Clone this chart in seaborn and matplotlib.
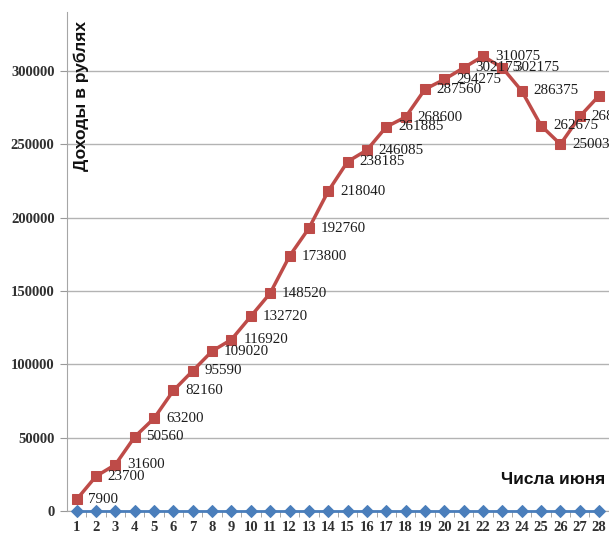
import matplotlib
matplotlib.use("Agg")
import matplotlib.pyplot as plt
import seaborn as sns
import pandas as pd

# Days of June
days = list(range(1, 29))
# Cumulative income, roubles
income = [7900, 23700, 31600, 50560, 63200, 82160, 95590, 109020, 116920,
          132720, 148520, 173800, 192760, 218040, 238185, 246085, 261885,
          268600, 287560, 294275, 302175, 310075, 302175, 286375, 262675,
          250030, 268990, 283210]
# Second series (all zero)
base = [0, 0, 0, 0, 0, 0, 0, 0, 0, 0, 0, 0, 0, 0,
        0, 0, 0, 0, 0, 0, 0, 0, 0, 0, 0, 0, 0, 0]
y_ticks = [0, 50000, 100000, 150000, 200000, 250000, 300000]

y_title = "Доходы в рублях"
x_title = "Числа июня"

df = pd.DataFrame({"day": days, "income": income, "base": base})

sns.set_style("white")
plt.rcParams["font.family"] = ["Liberation Serif", "DejaVu Serif"]

W, H = 609, 536
fig = plt.figure(figsize=(W / 100, H / 100), dpi=100)
ax = fig.add_axes([67 / W, 25 / H, (W - 67 + 0.5) / W, 499 / H])

red = "#BE4B48"
blue = "#4A7EBB"

sns.lineplot(data=df, x="day", y="base", ax=ax, color=blue, lw=2,
             marker="D", markersize=6, markeredgecolor=blue, zorder=3,
             clip_on=False)
sns.lineplot(data=df, x="day", y="income", ax=ax, color=red, lw=2.5,
             marker="s", markersize=7.5, markeredgecolor=red, zorder=4,
             clip_on=False)

for d, v in zip(days, income):
    ax.annotate(str(v), (d, v), xytext=(8.5, 0), textcoords="offset points",
                ha="left", va="center", fontsize=10.8, color="#1c1c1c",
                annotation_clip=False, zorder=5)

ax.set_xlim(0.5, 0.5 + (W - 67) / 19.333)
ax.set_ylim(0, 340200)
ax.set_xticks(days)
ax.set_xticklabels([str(d) for d in days], fontsize=10.5, color="#303030",
                   fontweight="bold")
ax.set_xticks([d + 0.5 for d in days], minor=True)
ax.set_yticks(y_ticks)
ax.set_yticklabels([str(t) for t in y_ticks], fontsize=10.5, color="#303030",
                   fontweight="bold")
ax.tick_params(axis="y", which="major", direction="out", length=5,
               color="#999999", pad=4, left=True)
ax.tick_params(axis="x", which="major", length=0, pad=7)
ax.tick_params(axis="x", which="minor", direction="out", length=4,
               color="#999999", bottom=True)

ax.yaxis.grid(True, color="#B3B3B3", lw=1)
ax.set_axisbelow(True)
for side in ["top", "right"]:
    ax.spines[side].set_visible(False)
ax.spines["left"].set_color("#A6A6A6")
ax.spines["bottom"].set_color("#A6A6A6")

ax.set_xlabel("")
ax.set_ylabel("")
ax.text(81 / W, (H - 96) / H, y_title, transform=fig.transFigure,
        rotation=90, ha="center", va="center", fontsize=12.5,
        fontweight="bold", family=["Liberation Sans", "DejaVu Sans"],
        color="#111111")
ax.text(605 / W, (H - 480) / H, x_title, transform=fig.transFigure,
        ha="right", va="center", fontsize=12.5, fontweight="bold",
        family=["Liberation Sans", "DejaVu Sans"], color="#111111")

fig.savefig("out.png", dpi=100)
